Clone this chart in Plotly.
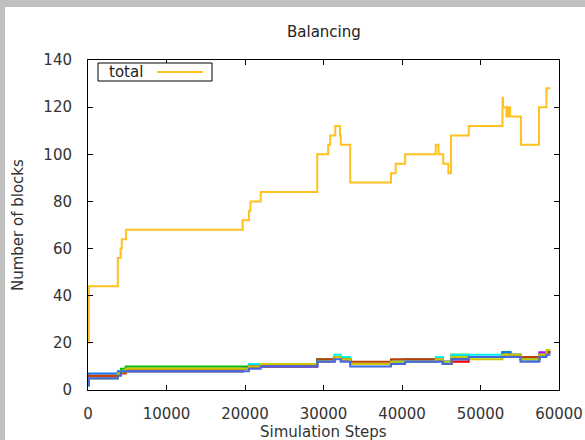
import plotly.graph_objects as go

# ---- data ----
total_x = [0, 100, 3800, 4150, 4300, 4850, 19700, 20500, 20700, 22000, 29200, 30600, 30850, 31500,
           32100, 32200, 33400, 38600, 39200, 40400, 44300, 44650, 45250, 45900, 46250, 48500,
           52800, 52880, 53300, 53400, 53500, 53600, 53760, 55150, 57450, 58400, 58900]
total_y = [20, 44, 56, 60, 64, 68, 72, 76, 80, 84, 100, 104, 108, 112,
           108, 104, 88, 92, 96, 100, 104, 100, 96, 92, 108, 112,
           124, 120, 116, 120, 116, 120, 116, 104, 120, 128, 128]

steps = [0, 100, 3800, 4200, 4800, 19700, 20500, 22000, 29200, 31400, 32200, 33400, 38600,
         40400, 44300, 45200, 46300, 48500, 52800, 53800, 55100, 57500, 58400, 58900]

s_red     = [3, 6, 7, 8, 9, 9, 10, 11, 13, 14, 13, 11, 12, 13, 13, 11, 12, 14, 16, 14, 13, 15, 16, 16]
s_green   = [3, 5, 7, 9, 10, 10, 10, 11, 13, 14, 13, 11, 12, 12, 13, 12, 15, 14, 16, 14, 13, 15, 16, 16]
s_blue    = [2, 7, 8, 8, 8, 9, 10, 10, 12, 14, 13, 11, 12, 12, 13, 12, 13, 14, 16, 15, 13, 15, 16, 16]
s_magenta = [3, 5, 7, 8, 8, 9, 10, 10, 12, 14, 13, 11, 12, 13, 13, 12, 13, 14, 14, 14, 13, 16, 16, 16]
s_cyan    = [2, 5, 7, 8, 8, 9, 11, 11, 13, 15, 14, 11, 12, 13, 14, 12, 15, 15, 14, 15, 13, 15, 16, 16]
s_orange  = [2, 6, 7, 7, 8, 9, 10, 10, 13, 14, 13, 12, 13, 13, 13, 11, 13, 14, 15, 15, 14, 15, 16, 16]
s_yellow  = [3, 5, 7, 8, 9, 9, 10, 11, 12, 14, 13, 11, 12, 12, 13, 12, 14, 13, 15, 15, 13, 15, 17, 17]
s_royal   = [2, 5, 6, 8, 8, 8, 9, 10, 12, 13, 12, 10, 11, 12, 12, 11, 13, 14, 14, 14, 12, 14, 15, 15]

series = [s_red, s_green, s_blue, s_magenta, s_cyan, s_orange, s_yellow, s_royal]
colors = ["#ff0000", "#00c000", "#0080ff", "#c000ff", "#00eeee", "#c04000", "#c8c800", "#4169e1"]

x_ticks = [0, 10000, 20000, 30000, 40000, 50000, 60000]
y_ticks = [0, 20, 40, 60, 80, 100, 120, 140]

FONT = "DejaVu Sans"
TXT = "#333333"
FS = 15

fig = go.Figure()
for vals, col in zip(series, colors):
    fig.add_trace(go.Scatter(x=steps, y=vals, mode="lines", line=dict(color=col, width=2, shape="hv"),
                             showlegend=False, hoverinfo="skip"))
fig.add_trace(go.Scatter(x=total_x, y=total_y, mode="lines", name="total",
                         line=dict(color="#ffc020", width=2, shape="hv"), showlegend=False))

L, R, T, B = 88, 26, 60, 50
W, H = 585, 440
pw, ph = W - L - R, H - T - B

def px_x(px):
    return (px - L) / pw

def px_y(py):
    return (H - B - py) / ph

shapes = [
    # window frame strips
    dict(type="rect", xref="paper", yref="paper", x0=px_x(0), x1=px_x(W), y0=px_y(0), y1=px_y(7),
         fillcolor="#c0c0c0", line=dict(width=0), layer="below"),
    dict(type="rect", xref="paper", yref="paper", x0=px_x(0), x1=px_x(5), y0=px_y(0), y1=px_y(H),
         fillcolor="#c0c0c0", line=dict(width=0), layer="below"),
    # legend box
    dict(type="rect", xref="paper", yref="paper", x0=px_x(98), x1=px_x(212), y0=px_y(63), y1=px_y(81),
         fillcolor="white", line=dict(color="black", width=1), layer="above"),
    dict(type="line", xref="paper", yref="paper", x0=px_x(157), x1=px_x(203), y0=px_y(72), y1=px_y(72),
         line=dict(color="#ffc020", width=2), layer="above"),
]

annotations = [
    dict(text="total", xref="paper", yref="paper", x=px_x(145), y=px_y(72),
         xanchor="right", yanchor="middle", showarrow=False, font=dict(size=FS, color="#222222")),
    dict(text="Balancing", xref="paper", yref="paper", x=0.5, y=px_y(32),
         xanchor="center", yanchor="middle", showarrow=False, font=dict(size=FS, color="#222222")),
    dict(text="Simulation Steps", xref="paper", yref="paper", x=0.5, y=px_y(432),
         xanchor="center", yanchor="middle", showarrow=False, font=dict(size=FS, color=TXT)),
    dict(text="Number of blocks", xref="paper", yref="paper", x=px_x(18), y=0.5, textangle=-90,
         xanchor="center", yanchor="middle", showarrow=False, font=dict(size=FS, color=TXT)),
]

fig.update_layout(
    width=W, height=H,
    margin=dict(l=L, r=R, t=T, b=B, autoexpand=False),
    paper_bgcolor="white", plot_bgcolor="white",
    font=dict(family=FONT, size=FS, color=TXT),
    shapes=shapes,
    annotations=annotations,
    showlegend=False,
)
fig.update_xaxes(range=[0, 60000], tickvals=x_ticks, ticktext=[str(v) for v in x_ticks],
                 showgrid=False, zeroline=False, showline=True, linecolor="black", linewidth=1,
                 mirror="ticks", ticks="inside", ticklen=5, tickcolor="black",
                 ticklabelstandoff=10, automargin=False)
fig.update_yaxes(range=[0, 140], tickvals=y_ticks, ticktext=[str(v) for v in y_ticks],
                 showgrid=False, zeroline=False, showline=True, linecolor="black", linewidth=1,
                 mirror="ticks", ticks="inside", ticklen=5, tickcolor="black",
                 ticklabelstandoff=12, automargin=False)

fig.write_html("out.html", config={"displayModeBar": False},
               post_script="document.body.style.margin='0';document.body.style.padding='0';")
